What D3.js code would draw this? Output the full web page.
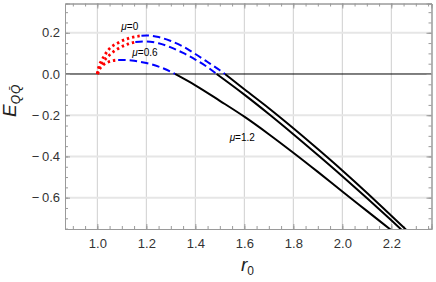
<!DOCTYPE html>
<html>
<head>
<meta charset="utf-8">
<script src="https://cdn.jsdelivr.net/npm/d3@7"></script>
<style>
    body { margin: 0; background: #fff; }
    svg { display: block; font-family: "Liberation Sans", Arial, sans-serif; }
</style>
</head>
<body>
<svg id="chart" width="436" height="282"></svg>
<script>

// curve points [r0, E], split into the dotted, dashed and solid parts
var mu0Dotted = [[1.0, 0], [1.006, 0.035], [1.018, 0.066], [1.045, 0.117], [1.086, 0.152], [1.127, 0.173], [1.18, 0.186]];
var mu0Dashed = [[1.18, 0.186], [1.2, 0.187], [1.25, 0.179], [1.3, 0.16], [1.35, 0.133], [1.4, 0.097], [1.45, 0.058], [1.5, 0.018], [1.521, 0]];
var mu0Solid = [[1.521, 0], [1.6, -0.074], [1.7, -0.166], [1.8, -0.263], [1.9, -0.364], [2.0, -0.468], [2.1, -0.576], [2.2, -0.688], [2.3, -0.8]];

var mu06Dotted = [[1.0, 0], [1.008, 0.03], [1.025, 0.06], [1.052, 0.095], [1.086, 0.124], [1.127, 0.146], [1.155, 0.155]];
var mu06Dashed = [[1.155, 0.155], [1.2, 0.158], [1.25, 0.149], [1.3, 0.129], [1.35, 0.102], [1.4, 0.07], [1.45, 0.033], [1.487, 0]];
var mu06Solid = [[1.487, 0], [1.6, -0.1], [1.7, -0.194], [1.8, -0.292], [1.9, -0.393], [2.0, -0.496], [2.1, -0.602], [2.2, -0.71], [2.3, -0.82]];

var mu12Dotted = [[1.0, 0], [1.01, 0.025], [1.025, 0.045], [1.045, 0.058], [1.065, 0.065], [1.085, 0.068]];
var mu12Dashed = [[1.085, 0.068], [1.1, 0.068], [1.15, 0.064], [1.2, 0.053], [1.25, 0.036], [1.3, 0.011], [1.317, 0]];
var mu12Solid = [[1.317, 0], [1.4, -0.055], [1.5, -0.13], [1.6, -0.207], [1.7, -0.292], [1.8, -0.382], [1.9, -0.475], [2.0, -0.57], [2.1, -0.664], [2.2, -0.758]];

// curve labels and where they sit (r0, E)
var curveLabels = ["0", "0.6", "1.2"];
var labelSpots = [[1.098, 0.212], [1.143, 0.088], [1.54, -0.325]];

// tick labels
var xMajor = [1.0, 1.2, 1.4, 1.6, 1.8, 2.0, 2.2];
var yMajor = [-0.6, -0.4, -0.2, 0.0, 0.2];

var svg = d3.select("#chart");

// plot box
var boxLeft = 65, boxRight = 431.5, boxTop = 3.5, boxBottom = 229;

var x = d3.scaleLinear().domain([0.868, 2.364]).range([boxLeft, boxRight]);
var y = d3.scaleLinear().domain([-0.752, 0.342]).range([boxBottom, boxTop]);

var xMinor = d3.range(0.9, 2.36, 0.05);
var yMinor = d3.range(-0.75, 0.34, 0.05);

svg.append("clipPath")
    .attr("id", "plotClip")
  .append("rect")
    .attr("x", boxLeft)
    .attr("y", boxTop)
    .attr("width", boxRight - boxLeft)
    .attr("height", boxBottom - boxTop);

// vertical grid lines
svg.selectAll(".vgrid")
    .data(xMajor)
  .enter().append("line")
    .attr("class", "vgrid")
    .attr("x1", function(d) { return x(d); })
    .attr("x2", function(d) { return x(d); })
    .attr("y1", boxTop)
    .attr("y2", boxBottom)
    .attr("stroke", "#cfcfcf")
    .attr("stroke-width", 1);

// horizontal grid lines
svg.selectAll(".hgrid")
    .data(yMajor.filter(function(d) { return d != 0; }))
  .enter().append("line")
    .attr("class", "hgrid")
    .attr("x1", boxLeft)
    .attr("x2", boxRight)
    .attr("y1", function(d) { return y(d); })
    .attr("y2", function(d) { return y(d); })
    .attr("stroke", "#e6e6e6")
    .attr("stroke-width", 2);

// zero line
svg.append("line")
    .attr("x1", boxLeft)
    .attr("x2", boxRight)
    .attr("y1", y(0))
    .attr("y2", y(0))
    .attr("stroke", "#000")
    .attr("stroke-width", 1);

// draw a frame side with inward ticks
function frameAxis(axis, pos, major, minor, labels) {
    var g = svg.append("g")
        .attr("transform", pos);
    g.call(axis(minor).tickSize(-3).tickFormat(""));
    var gm = svg.append("g")
        .attr("transform", pos);
    gm.call(axis(major).tickSize(-5));
    if (!labels) {
        gm.selectAll("text").remove();
    }
    [g, gm].forEach(function(s) {
        s.select(".domain").attr("stroke", "#9a9a9a");
        s.selectAll(".tick line").attr("stroke", "#9a9a9a");
    });
    return gm;
}

var fmt = d3.format(".1f");

var xBottom = frameAxis(function(v) {
    return d3.axisBottom(x).tickValues(v).tickPadding(10).tickSizeOuter(0).tickFormat(fmt);
}, "translate(0," + boxBottom + ")", xMajor, xMinor, true);

frameAxis(function(v) {
    return d3.axisTop(x).tickValues(v).tickSizeOuter(0);
}, "translate(0," + boxTop + ")", xMajor, xMinor, false);

var yLeft = frameAxis(function(v) {
    return d3.axisLeft(y).tickValues(v).tickPadding(5).tickSizeOuter(0)
        .tickFormat(function(d) { return d < 0 ? "\u2212\u2009" + fmt(-d) : fmt(d); });
}, "translate(" + boxLeft + ",0)", yMajor, yMinor, true);

frameAxis(function(v) {
    return d3.axisRight(y).tickValues(v).tickSizeOuter(0);
}, "translate(" + boxRight + ",0)", yMajor, yMinor, false);

[xBottom, yLeft].forEach(function(s) {
    s.selectAll("text")
        .attr("fill", "#333")
        .style("font-size", "13px")
        .style("font-family", "'Liberation Sans', Arial, sans-serif");
});

// the curves
var line = d3.line()
    .x(function(d) { return x(d[0]); })
    .y(function(d) { return y(d[1]); })
    .curve(d3.curveMonotoneX);

var curves = svg.append("g")
    .attr("clip-path", "url(#plotClip)");

var solids = [mu0Solid, mu06Solid, mu12Solid];
var dashes = [mu0Dashed, mu06Dashed, mu12Dashed];
var dots = [mu0Dotted, mu06Dotted, mu12Dotted];

curves.selectAll(".solid")
    .data(solids)
  .enter().append("path")
    .attr("class", "solid")
    .attr("d", line)
    .attr("fill", "none")
    .attr("stroke", "#000")
    .attr("stroke-width", 2);

curves.selectAll(".dashed")
    .data(dashes)
  .enter().append("path")
    .attr("class", "dashed")
    .attr("d", line)
    .attr("fill", "none")
    .attr("stroke", "#0000ff")
    .attr("stroke-width", 2)
    .attr("stroke-dasharray", "7.5,4");

curves.selectAll(".dotted")
    .data(dots)
  .enter().append("path")
    .attr("class", "dotted")
    .attr("d", line)
    .attr("fill", "none")
    .attr("stroke", "#ff0000")
    .attr("stroke-width", 2.8)
    .attr("stroke-dasharray", "2.4,3");

// curve labels
var labels = svg.selectAll(".muLabel")
    .data(curveLabels)
  .enter().append("text")
    .attr("class", "muLabel")
    .attr("x", function(d, i) { return x(labelSpots[i][0]); })
    .attr("y", function(d, i) { return y(labelSpots[i][1]); })
    .style("font-size", "10px")
    .attr("fill", "#000");
labels.append("tspan").style("font-style", "italic").text("\u03bc");
labels.append("tspan").text(function(d) { return "=" + d; });

// axis titles
var xTitle = svg.append("text")
    .attr("x", 241)
    .attr("y", 271)
    .attr("fill", "#222");
xTitle.append("tspan").style("font-style", "italic").style("font-size", "19px").text("r");
xTitle.append("tspan").attr("dy", 4).style("font-size", "12px").text("0");

var yTitle = svg.append("text")
    .attr("transform", "translate(16,117) rotate(-90)")
    .attr("fill", "#222");
yTitle.append("tspan").style("font-style", "italic").style("font-size", "19px").text("E");
yTitle.append("tspan").attr("dy", 4).style("font-style", "italic").style("font-size", "12px").text("Q");
yTitle.append("tspan").attr("dx", 1).style("font-style", "italic").style("font-size", "12px").text("Q\u0304");

</script>
</body>
</html>
